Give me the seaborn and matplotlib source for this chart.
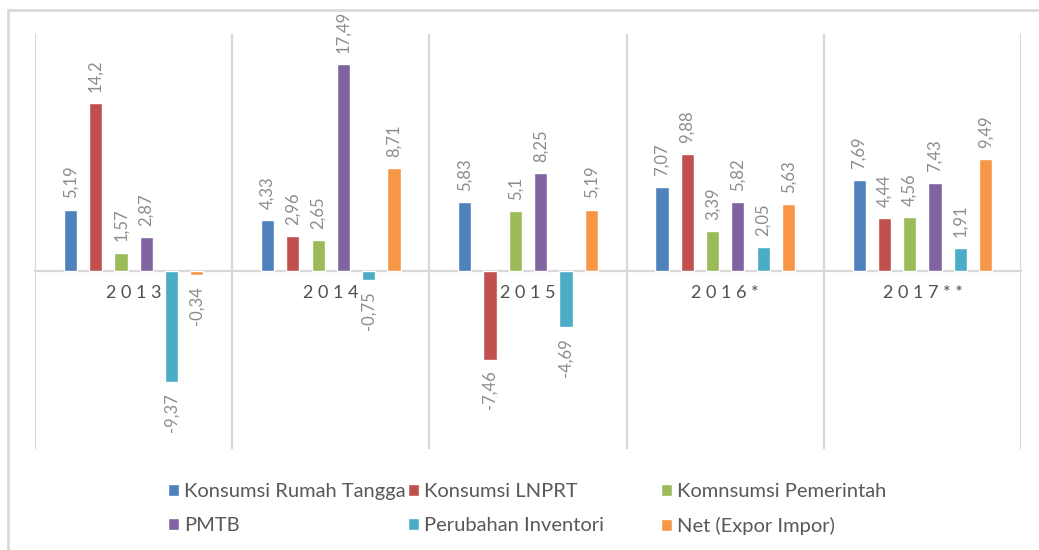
import numpy as np
import pandas as pd
import matplotlib
matplotlib.use("Agg")
import matplotlib.pyplot as plt
import matplotlib.patches as mpatches
import seaborn as sns

# ---- data ----
years = ["2013", "2014", "2015", "2016*", "2017**"]
series_names = ["Konsumsi Rumah Tangga", "Konsumsi LNPRT", "Komnsumsi Pemerintah",
                "PMTB", "Perubahan Inventori", "Net (Expor Impor)"]
rumah_tangga = [5.19, 4.33, 5.83, 7.07, 7.69]
lnprt = [14.2, 2.96, -7.46, 9.88, 4.44]
pemerintah = [1.57, 2.65, 5.1, 3.39, 4.56]
pmtb = [2.87, 17.49, 8.25, 5.82, 7.43]
inventori = [-9.37, -0.75, -4.69, 2.05, 1.91]
net_ekspor = [-0.34, 8.71, 5.19, 5.63, 9.49]
colors = ["#4F81BD", "#C0504D", "#9BBB59", "#8064A2", "#4BACC6", "#F79646"]

all_series = [rumah_tangga, lnprt, pemerintah, pmtb, inventori, net_ekspor]
rows = []
for name, vals in zip(series_names, all_series):
    for yr, v in zip(years, vals):
        rows.append({"Tahun": yr, "Komponen": name, "Nilai": v})
df = pd.DataFrame(rows)

sns.set_theme(style="white")
plt.rcParams["font.family"] = ["Lato", "DejaVu Sans"]

W, H = 1039, 550
fig = plt.figure(figsize=(W / 100, H / 100), dpi=100)
ax = fig.add_axes([35 / W, 1 - 449 / H, (1021 - 35) / W, (449 - 34) / H])

sns.barplot(data=df, x="Tahun", y="Nilai", hue="Komponen", order=years,
            hue_order=series_names, palette=colors, saturation=1,
            errorbar=None, width=0.77, gap=0.48, ax=ax, zorder=3)

ax.set_xlim(-0.5, len(years) - 0.5)
ax.set_ylim(-15, 20)
ax.set_xlabel("")
ax.set_ylabel("")
ax.set_yticks([])

for s in ["top", "right", "left"]:
    ax.spines[s].set_visible(False)
ax.spines["bottom"].set_position(("data", 0))
ax.spines["bottom"].set_color("#d9d9d9")
ax.spines["bottom"].set_linewidth(1.6)
ax.spines["bottom"].set_zorder(2)

ax.set_xticks(range(len(years)))
ax.set_xticklabels([" ".join(y) for y in years], fontsize=13, color="#505050")
ax.tick_params(axis="x", which="both", length=0, pad=10)
ax.set_xticks(np.arange(-0.5, len(years), 1), minor=True)
ax.grid(False)
ax.grid(which="minor", axis="x", color="#d9d9d9", linewidth=1.6)
ax.set_axisbelow(True)


def fmt(v):
    return f"{v:g}".replace(".", ",")


for cont, vals in zip(ax.containers, all_series):
    ax.bar_label(cont, labels=[fmt(v) for v in vals], rotation=90, padding=8,
                 fontsize=12, color="#8c8c8c")

# legend (three columns placed like the original)
handles, labels = ax.get_legend_handles_labels()
if ax.get_legend() is not None:
    ax.get_legend().remove()
col_x = [168, 408, 661]
for c in range(3):
    idx = [c, c + 3]
    fig.legend([handles[i] for i in idx], [labels[i] for i in idx],
               loc="upper left", bbox_to_anchor=(col_x[c] / W, 1 - 483 / H),
               frameon=False, fontsize=14.5, labelcolor="#595959",
               handlelength=0.55, handleheight=0.55, handletextpad=0.25,
               labelspacing=0.85, borderpad=0, borderaxespad=0)

# outer chart border
fig.patches.append(mpatches.Rectangle((8 / W, -0.1), 1.2, 1 - 10 / H + 0.1,
                                      transform=fig.transFigure, fill=False,
                                      edgecolor="#d9d9d9", linewidth=2))

fig.savefig("out.png", dpi=100)
